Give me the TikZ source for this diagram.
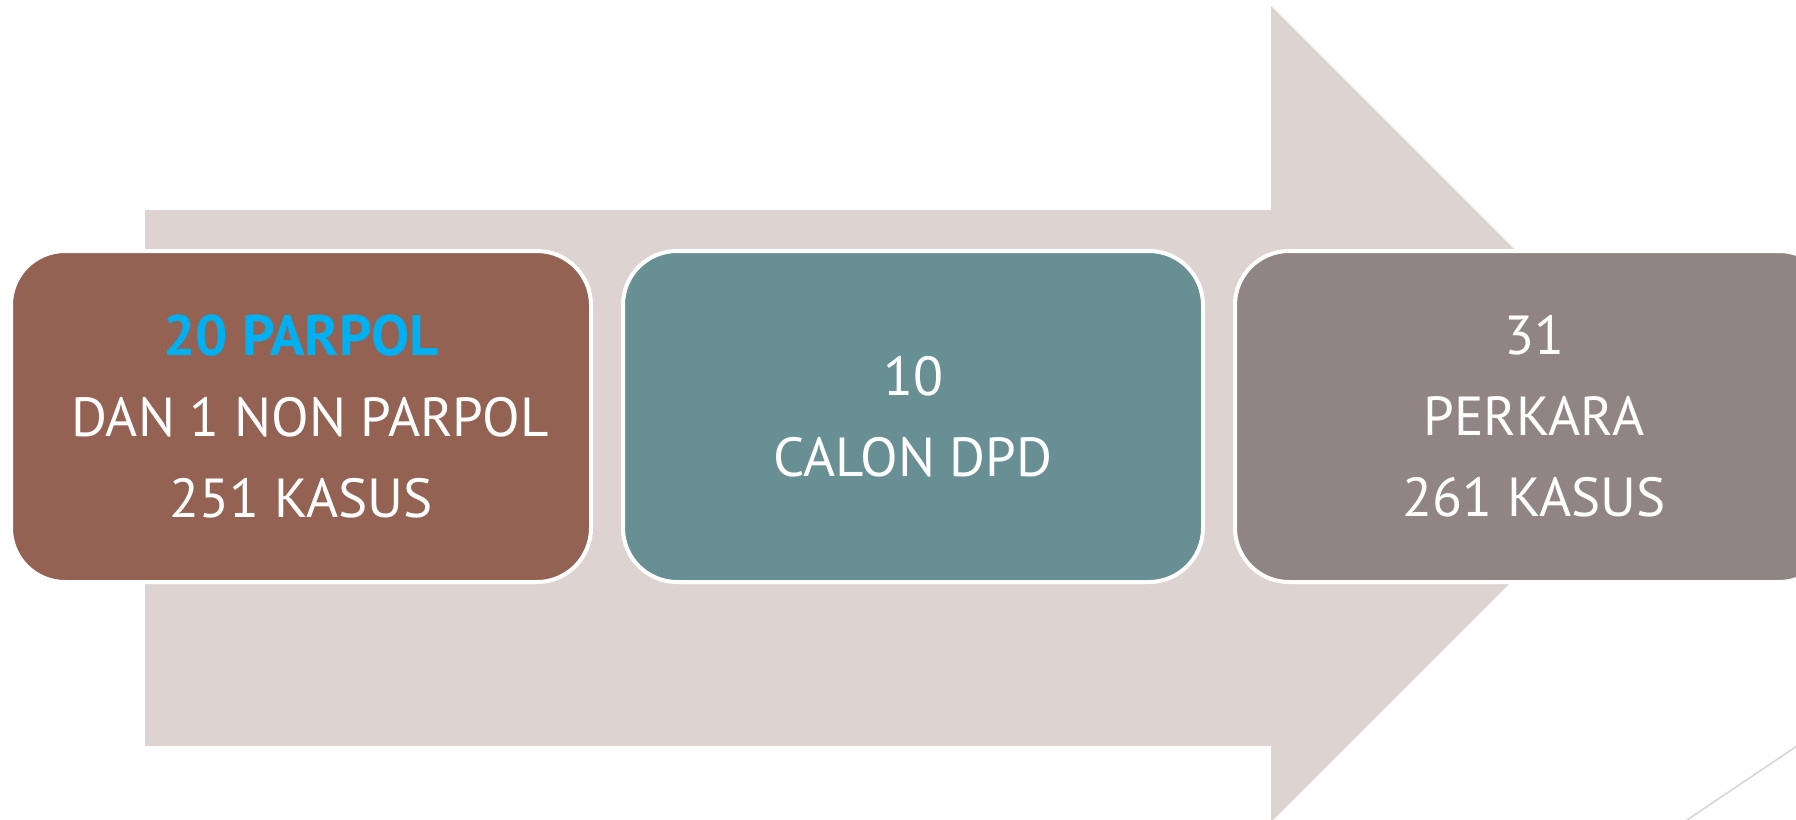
\documentclass[tikz,border=0pt]{standalone}
\usepackage{fontspec}
\setmainfont{PT Sans}
\usetikzlibrary{positioning}

\definecolor{panah}{HTML}{DDD4D2}
\definecolor{coklat}{HTML}{946252}
\definecolor{hijau}{HTML}{689094}
\definecolor{abu}{HTML}{908484}
\definecolor{biru}{HTML}{00B0F0}
\definecolor{garis}{HTML}{D6D6D6}

\tikzset{
  kotak/.style={draw=white, line width=2pt, outer sep=0pt, rounded corners=27pt,
    minimum width=290pt, minimum height=165.5pt, text=white, align=center,
    font=\fontsize{27.5}{40.5}\selectfont},
  judul/.style={text=biru}
}

\begin{document}
\begin{tikzpicture}[x=0.5pt, y=-0.5pt]
            \useasboundingbox (0,0) rectangle (1796,820);
            \clip (0,0) rectangle (1796,820);
            % panah besar di belakang
            \fill[panah] (145,210) -- (1271,210) -- (1271,6) -- (1679,414)
                -- (1271,822) -- (1271,746) -- (145,746) -- cycle;
            % garis tipis di pojok kanan bawah
            \coordinate (g1) at (1687,820);
            \coordinate (g2) at (1800,744);
            \draw[garis, line width=0.8pt] (g1) -- (g2);

            \node[kotak, fill=coklat] (parpol) at (301,416.5)
                {{\color{biru}\fontsize{28.5}{40.5}\selectfont\bfseries 20 PARPOL}\\\hspace*{9pt}DAN 1 NON PARPOL\\251 KASUS};
            \node[kotak, fill=hijau, right=16pt of parpol] (dpd)
                {10\\CALON DPD};
            \node[kotak, fill=abu, minimum width=299pt, right=16pt of dpd] (perkara)
                {31\\PERKARA\\261 KASUS};
        \end{tikzpicture}
\end{document}
